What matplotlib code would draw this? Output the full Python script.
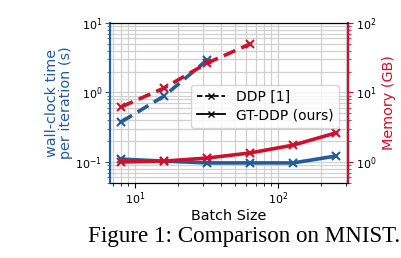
import matplotlib
matplotlib.use("Agg")
import matplotlib.pyplot as plt
from matplotlib.lines import Line2D

batch_ddp_time = [8, 16, 32]
time_ddp = [0.377, 0.89, 2.94]
batch_ddp_mem = [8, 16, 32, 64]
mem_ddp = [6.2, 11.6, 26.5, 49.9]
batch_gt = [8, 16, 32, 64, 128, 256]
time_gt = [0.11, 0.103, 0.097, 0.097, 0.097, 0.122]
mem_gt = [1.0, 1.03, 1.14, 1.35, 1.75, 2.63]

BLUE = "#225c99"
RED = "#d0102a"

fig = plt.figure(figsize=(4.02, 2.58), dpi=100)
ax = fig.add_axes([0.274, 0.291, 0.592, 0.620])
ax2 = ax.twinx()

ax.set_xscale("log")
ax.set_yscale("log")
ax2.set_yscale("log")
ax.set_xlim(6.7, 310)
ax.set_ylim(0.05, 10)
ax2.set_ylim(0.5, 100)

ax.grid(True, which="both", color="#d0d0d0", lw=0.9)
ax.set_axisbelow(True)

lw = 2.6
ax.plot(batch_ddp_time, time_ddp, color=BLUE, ls=(0, (3.5, 1.8)), lw=lw, marker="x", ms=6, mew=1.5)
ax.plot(batch_gt, time_gt, color=BLUE, ls="-", lw=lw, marker="x", ms=6, mew=1.5)
ax2.plot(batch_ddp_mem, mem_ddp, color=RED, ls=(0, (3.5, 1.8)), lw=lw, marker="x", ms=6, mew=1.5)
ax2.plot(batch_gt, mem_gt, color=RED, ls="-", lw=lw, marker="x", ms=6, mew=1.5)

for a in (ax, ax2):
    a.tick_params(labelsize=8, pad=2)
ax.tick_params(axis="y", which="both", colors=BLUE, labelcolor="black")
ax2.tick_params(axis="y", which="both", colors=RED, labelcolor="black")
for s in (ax.spines["left"], ax2.spines["left"]):
    s.set_color(BLUE)
    s.set_linewidth(1.5)
for s in (ax.spines["right"], ax2.spines["right"]):
    s.set_color(RED)
    s.set_linewidth(1.5)

ax.set_xlabel("Batch Size", fontsize=10.4, labelpad=1)
ax.set_ylabel("wall-clock time\nper iteration (s)", color=BLUE, fontsize=10.4, labelpad=2, linespacing=1.0)
ax2.set_ylabel("Memory (GB)", color=RED, fontsize=10.4, labelpad=4)

handles = [
    Line2D([], [], color="black", ls=(0, (3, 1.5)), lw=1.3, marker="x", ms=5),
    Line2D([], [], color="black", ls="-", lw=1.3, marker="x", ms=5),
]
leg = ax2.legend(handles, ["DDP [1]", "GT-DDP (ours)"], loc="center right",
                 bbox_to_anchor=(0.99, 0.48), fontsize=10, framealpha=0.8,
                 handlelength=2.0, borderpad=0.4, labelspacing=0.3)

fig.text(0.607, 0.062, "Figure 1: Comparison on MNIST.", fontsize=16.6,
         family="Liberation Serif", ha="center", va="baseline")

fig.savefig("out.png", dpi=100)
